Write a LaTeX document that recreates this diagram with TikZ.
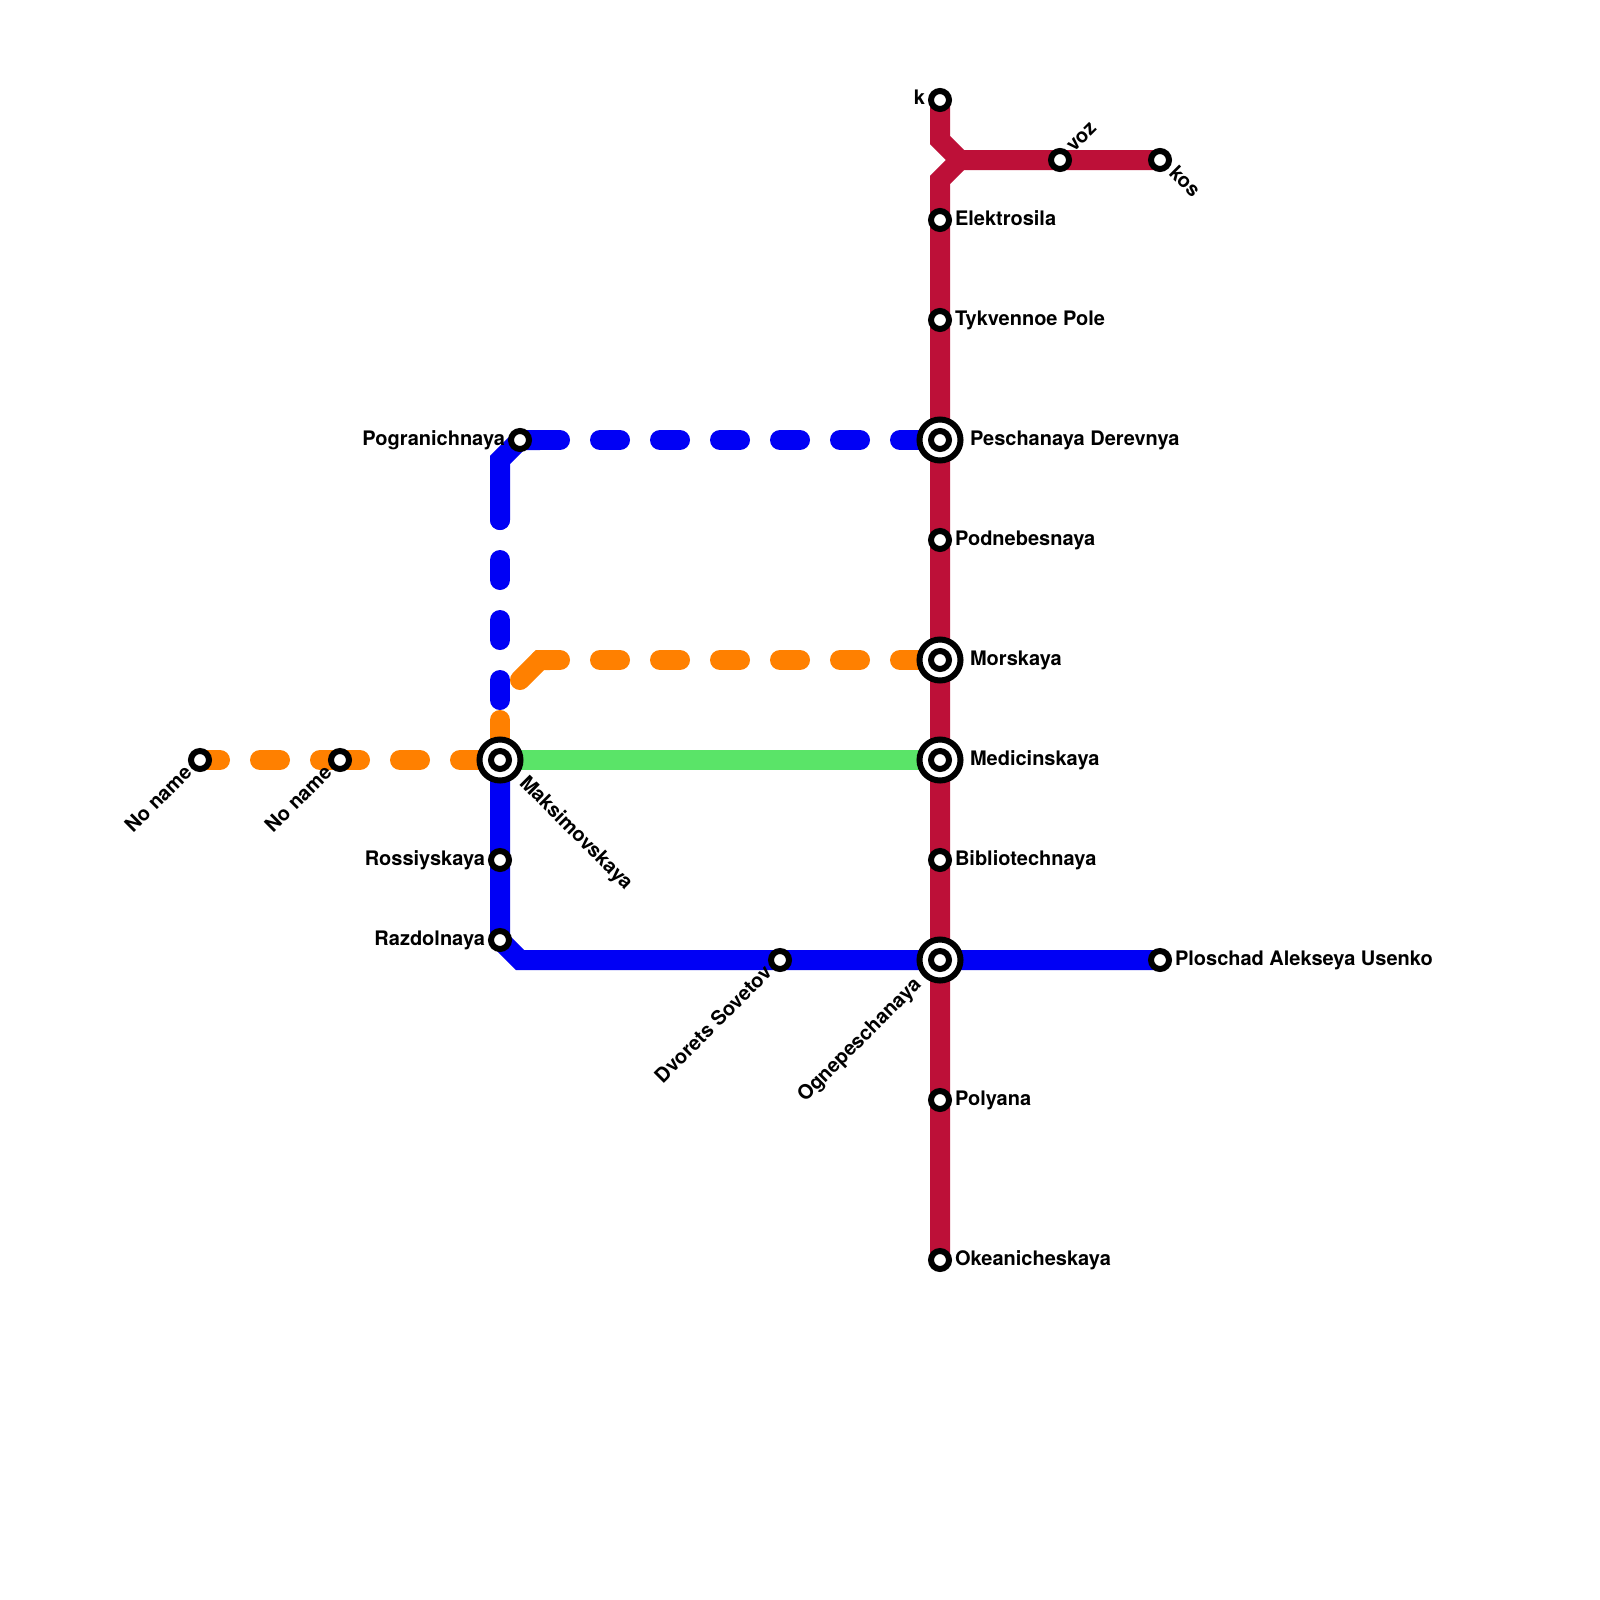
\documentclass[tikz,border=0pt]{standalone}
\usepackage{fontspec}
\setmainfont{TeX Gyre Heros}
\definecolor{lred}{HTML}{BD1038}
\definecolor{lblue}{HTML}{0000F5}
\definecolor{lorange}{HTML}{FF8000}
\definecolor{lgreen}{HTML}{5AE468}
\tikzset{
  metro/.style={line width=20pt,line join=miter,line cap=butt},
  metrodash/.style={line width=20pt,line cap=round,dash pattern=on 20pt off 40pt},
  smallst/.style={circle,draw=black,fill=white,line width=6pt,minimum size=18pt,inner sep=0pt,outer sep=0pt},
  bigst/.style={circle,draw=black,fill=white,line width=6pt,minimum size=41pt,inner sep=0pt,outer sep=0pt},
  lab/.style={inner sep=0pt,outer sep=0pt,font=\fontsize{20}{24}\selectfont\bfseries,text=black},
  labr/.style={lab,anchor=base west},
  labl/.style={lab,anchor=base east},
  labup/.style={lab,anchor=base east,rotate=45},
  labdown/.style={lab,anchor=base west,rotate=-45},
  labupr/.style={lab,anchor=base west,rotate=45}
}
\begin{document}
\begin{tikzpicture}[x=1pt,y=-1pt]
\fill[white] (0,0) rectangle (1600,1600);
\useasboundingbox (0,0) rectangle (1600,1600);
% positions
\coordinate (ck) at (940,100);
\coordinate (celek) at (940,220);
\coordinate (ctyk) at (940,320);
\coordinate (cpes) at (940,440);
\coordinate (cpod) at (940,540);
\coordinate (cmor) at (940,660);
\coordinate (cmed) at (940,760);
\coordinate (cbib) at (940,860);
\coordinate (cogn) at (940,960);
\coordinate (cpol) at (940,1100);
\coordinate (coke) at (940,1260);
\coordinate (cvoz) at (1060,160);
\coordinate (ckos) at (1160,160);
\coordinate (cuse) at (1160,960);
\coordinate (cdvo) at (780,960);
\coordinate (craz) at (500,940);
\coordinate (cros) at (500,860);
\coordinate (cmak) at (500,760);
\coordinate (cno1) at (200,760);
\coordinate (cno2) at (340,760);
\coordinate (cpog) at (520,440);
% bends
\coordinate (r1) at (940,140);
\coordinate (r2) at (960,160);
\coordinate (r3) at (940,180);
\coordinate (b1) at (520,960);
\coordinate (b2) at (500,460);
\coordinate (b3) at (500,520);
\coordinate (b4) at (540,440);
\coordinate (b5) at (500,500);
\coordinate (b6) at (500,700);
\coordinate (o1) at (540,660);
\coordinate (o2) at (520,680);
\coordinate (o3) at (500,720);
% lines
\draw[metro,lred] (ck) -- (r1) -- (r2) -- (cvoz) -- (ckos);
\draw[metro,lred] (coke) -- (r3) -- (r2);
\draw[metro,lgreen] (cmak) -- (cmed);
\draw[metro,lblue] (cmak) -- (craz) -- (b1) -- (cuse);
\draw[metro,lblue,line cap=round] (b4) -- (cpog) -- (b2) -- (b3);
\draw[metrodash,lblue] (b4) -- (cpes);
\draw[metrodash,lblue] (b5) -- (b6);
\draw[metrodash,lorange] (cno1) -- (cno2);
\draw[metrodash,lorange] (cno2) -- (cmak);
\draw[metrodash,lorange] (o3) -- (cmak);
\draw[metrodash,lorange] (o1) -- (cmor);
\draw[metro,lorange,line cap=round] (o2) -- (o1) -- ++(10,0);
% stations
\foreach \n in {k,elek,tyk,pod,bib,pol,oke,voz,kos,use,dvo,raz,ros,no1,no2,pog}
  \node[smallst] (\n) at (c\n) {};
\foreach \n in {pes,mor,med,ogn,mak}{
  \node[bigst] (\n) at (c\n) {};
  \node[smallst] (\n i) at (c\n) {};
}
% labels
\node[labl] (tk) at (925,105) {k};
\node[labr] (telek) at (955,225) {Elektrosila};
\node[labr] (ttyk) at (955,325) {Tykvennoe Pole};
\node[labr] (tpes) at (970,445) {Peschanaya Derevnya};
\node[labr] (tpod) at (955,545) {Podnebesnaya};
\node[labr] (tmor) at (970,665) {Morskaya};
\node[labr] (tmed) at (970,765) {Medicinskaya};
\node[labr] (tbib) at (955,865) {Bibliotechnaya};
\node[labr] (tuse) at (1175,965) {Ploschad Alekseya Usenko};
\node[labr] (tpol) at (955,1105) {Polyana};
\node[labr] (toke) at (955,1265) {Okeanicheskaya};
\node[labl] (tpog) at (505,445) {Pogranichnaya};
\node[labl] (tros) at (485,865) {Rossiyskaya};
\node[labl] (traz) at (485,945) {Razdolnaya};
\node[labup] (tno1) at (193,774) {No name};
\node[labup] (tno2) at (333,774) {No name};
\node[labup] (tdvo) at (773,974) {Dvorets Sovetov};
\node[labup] (togn) at (922,986) {Ognepeschanaya};
\node[labdown] (tmak) at (518.5,784) {Maksimovskaya};
\node[labupr] (tvoz) at (1074,153) {voz};
\node[labdown] (tkos) at (1168,174) {kos};
\end{tikzpicture}
\end{document}
